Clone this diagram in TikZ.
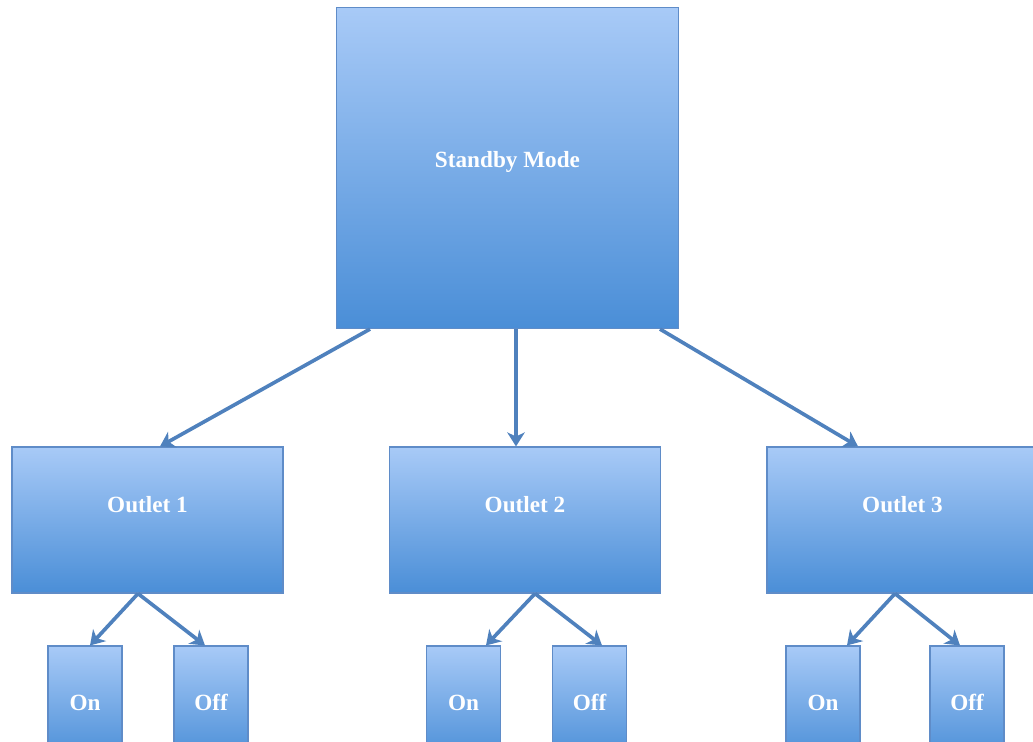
\documentclass[tikz,border=0pt]{standalone}
\usepackage{fontspec}
\setmainfont{Liberation Serif}
\usetikzlibrary{arrows.meta,calc}
\definecolor{boxtop}{RGB}{168,202,247}
\definecolor{boxbot}{RGB}{74,142,215}
\definecolor{boxline}{RGB}{95,140,200}
\definecolor{arrowblue}{RGB}{79,129,189}
\begin{document}
\begin{tikzpicture}[x=0.025cm, y=-0.025cm, >={Stealth[length=10pt,width=12.5pt,inset=3pt]},
		box/.style={draw=boxline, line width=0.8pt, top color=boxtop, bottom color=boxbot, text=white, inner sep=0pt, font=\bfseries\fontsize{16.5}{18}\selectfont},
		lift/.style={text height=11pt, text depth=#1},
		outletbox/.style={box, lift=21pt, minimum width=6.775cm, minimum height=3.65cm},
		statebox/.style={box, lift=0pt, minimum width=1.85cm, minimum height=2.85cm},
		link/.style={->, draw=arrowblue, line width=2.6pt}]
				\useasboundingbox (0,0) rectangle (1033,742);
				
				% 1. 主框
				\node[box, lift=11.4pt, minimum width=8.55cm, minimum height=8.025cm] (sb) at (507.5,168) {Standby Mode};
				
				% 2. 插座框
				\node[outletbox] (o1) at (147.5,520) {Outlet 1};
				\node[outletbox] (o2) at (525,520) {Outlet 2};
				\node[outletbox] (o3) at (902.5,520) {Outlet 3};
				
				% 3. 开关框
				\node[statebox] (on1) at (85,703) {On};
				\node[statebox] (off1) at (211,703) {Off};
				\node[statebox] (on2) at (463.5,703) {On};
				\node[statebox] (off2) at (589.5,703) {Off};
				\node[statebox] (on3) at (823,703) {On};
				\node[statebox] (off3) at (967,703) {Off};
				
				% 4. 箭头
				\draw[link] ($(sb.south)+(-137.5,0)$) -- ($(o1.north)+(12.5,0)$);
				\draw[link] ($(sb.south)+(8.5,0)$) -- ($(o2.north)+(-9,0)$);
				\draw[link] ($(sb.south)+(152.5,0)$) -- ($(o3.north)+(-44.5,0)$);
				
				\draw[link] ($(o1.south)+(-9.5,0)$) -- ($(on1.north)+(5,0)$);
				\draw[link] ($(o1.south)+(-9.5,0)$) -- ($(off1.north)+(-6,0)$);
				\draw[link] ($(o2.south)+(10,0)$) -- ($(on2.north)+(22.5,0)$);
				\draw[link] ($(o2.south)+(10,0)$) -- ($(off2.north)+(12.5,0)$);
				\draw[link] ($(o3.south)+(-7.5,0)$) -- ($(on3.north)+(24,0)$);
				\draw[link] ($(o3.south)+(-7.5,0)$) -- ($(off3.north)+(-7,0)$);
			\end{tikzpicture}
\end{document}
